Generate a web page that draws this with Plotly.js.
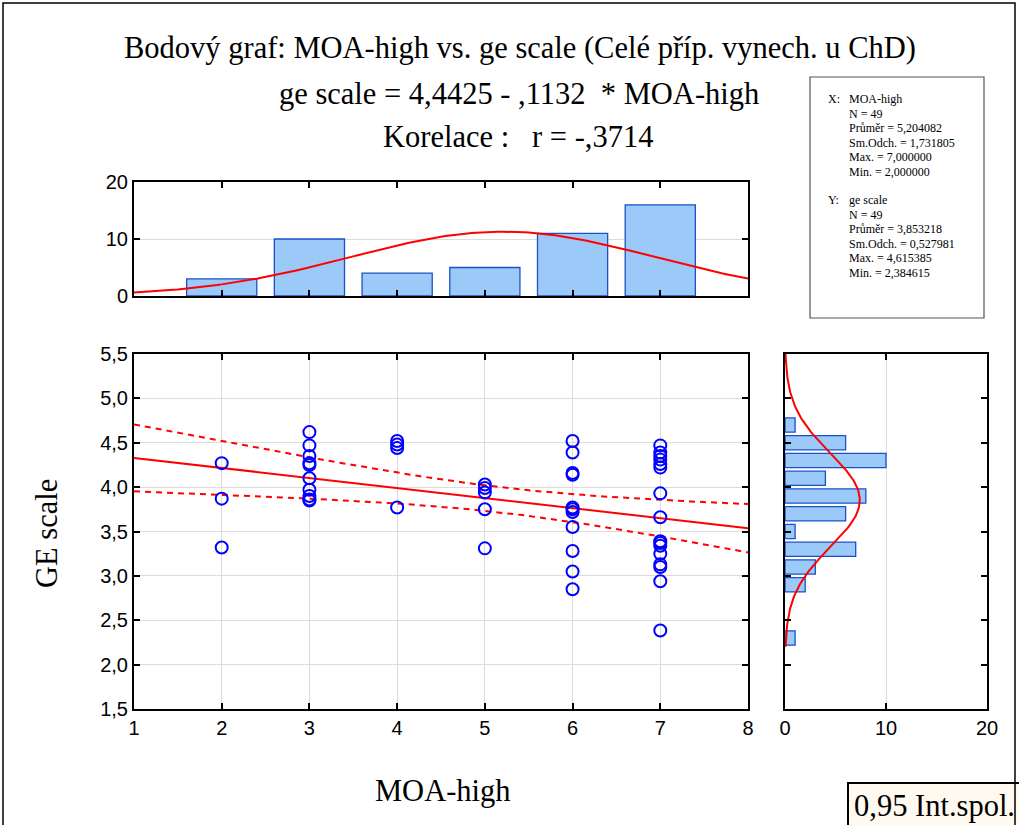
<!DOCTYPE html>
<html>
<head>
<meta charset="utf-8">
<script src="https://cdn.plot.ly/plotly-3.0.1.min.js"></script>
<style>html,body{margin:0;padding:0;background:#fff;}#chart{width:1019px;height:825px;}</style>
</head>
<body>
<div id="chart"></div>
<script>
// ---- data ----
const moaHigh = [
  2,2,2,
  3,3,3,3,3,3,3,3,3,3,
  4,4,4,4,
  5,5,5,5,5,
  6,6,6,6,6,6,6,6,6,6,6,
  7,7,7,7,7,7,7,7,7,7,7,7,7,7,7,7
];
const geScale = [
  4.27,3.87,3.32,
  4.62,4.47,4.35,4.27,4.25,4.10,3.97,3.90,3.86,3.85,
  4.52,4.48,4.44,3.77,
  4.03,3.99,3.94,3.75,3.31,
  4.52,4.39,4.16,4.14,3.77,3.75,3.72,3.55,3.28,3.05,2.85,
  4.47,4.39,4.35,4.31,4.26,4.22,3.93,3.66,3.39,3.37,3.34,3.25,3.13,3.10,2.94,2.385
];
// statistics printed on the chart
const nObs = 49;
const meanX = 5.204082, sdX = 1.731805;
const meanY = 3.853218, sdY = 0.527981;
const intercept = 4.4425, slope = -0.1132, corr = -0.3714;
const tCrit = 2.0117;
const statsLinesX = ["N = 49","Průměr = 5,204082","Sm.Odch. = 1,731805","Max. = 7,000000","Min. = 2,000000"];
const statsLinesY = ["N = 49","Průměr = 3,853218","Sm.Odch. = 0,527981","Max. = 4,615385","Min. = 2,384615"];
const xTicks = [1,2,3,4,5,6,7,8];
const yTicks = [1.5,2,2.5,3,3.5,4,4.5,5,5.5];

// ---- fitted curves from the printed statistics ----
const W = 1019, H = 825;
const px = x => x / W, py = y => 1 - y / H;
const gridX = [], fitY = [], upY = [], loY = [], normTop = [];
const sRes = sdY * Math.sqrt(1 - corr*corr) * Math.sqrt((nObs-1)/(nObs-2));
const Sxx = (nObs-1) * sdX * sdX;
for (let i = 0; i <= 140; i++) {
  const x = 1 + i * 0.05;
  gridX.push(x);
  const f = intercept + slope * x;
  const h = tCrit * sRes * Math.sqrt(1/nObs + (x-meanX)*(x-meanX)/Sxx);
  fitY.push(f); upY.push(f + h); loY.push(f - h);
  normTop.push(nObs * 1 * Math.exp(-0.5*Math.pow((x-meanX)/sdX,2)) / (sdX*Math.sqrt(2*Math.PI)));
}
const gridY = [], normRight = [];
for (let i = 0; i <= 165; i++) {
  const y = 2.2 + i * 0.02;
  gridY.push(y);
  normRight.push(nObs * 0.2 * Math.exp(-0.5*Math.pow((y-meanY)/sdY,2)) / (sdY*Math.sqrt(2*Math.PI)));
}

const red = '#ff0000', blue = '#0000ff';
const barFill = 'rgba(150,198,248,0.95)', barLine = '#1a50c8';

const traces = [
  // top histogram
  {type:'histogram', x: moaHigh, xaxis:'x2', yaxis:'y2',
   xbins:{start:1.5, end:7.5, size:1},
   marker:{color:barFill, line:{color:barLine, width:1.3}}, hoverinfo:'skip'},
  {type:'scatter', mode:'lines', x: gridX, y: normTop, xaxis:'x2', yaxis:'y2',
   line:{color:red, width:2}, hoverinfo:'skip'},
  // right histogram
  {type:'histogram', y: geScale, xaxis:'x3', yaxis:'y3', orientation:'h',
   ybins:{start:2.2, end:4.8, size:0.2},
   marker:{color:barFill, line:{color:barLine, width:1.3}}, hoverinfo:'skip'},
  {type:'scatter', mode:'lines', x: normRight, y: gridY, xaxis:'x3', yaxis:'y3',
   line:{color:red, width:2}, hoverinfo:'skip'},
  // main scatter
  {type:'scatter', mode:'lines', x: gridX, y: upY, line:{color:red, width:2, dash:'6px,5px'}, hoverinfo:'skip'},
  {type:'scatter', mode:'lines', x: gridX, y: loY, line:{color:red, width:2, dash:'6px,5px'}, hoverinfo:'skip'},
  {type:'scatter', mode:'lines', x: gridX, y: fitY, line:{color:red, width:2}, hoverinfo:'skip'},
  {type:'scatter', mode:'markers', x: moaHigh, y: geScale,
   marker:{symbol:'circle-open', size:12, color:blue, line:{color:blue, width:2}}, hoverinfo:'skip'}
];

const tickFont = {family:'Liberation Sans, Arial, sans-serif', size:20, color:'#000'};
const serif = 'Liberation Serif, Times New Roman, serif';
const axisCommon = {showline:true, linecolor:'#000', linewidth:2, mirror:'ticks', ticks:'inside',
  ticklen:6, tickwidth:2, tickcolor:'#000', gridcolor:'#dcdcdc', gridwidth:1, zeroline:false,
  tickfont:tickFont, fixedrange:true};

const annotations = [
  {text:'Bodový graf: MOA-high vs. ge scale (Celé příp. vynech. u ChD)', x:px(520), y:py(48)},
  {text:'ge scale = 4,4425 - ,1132\u00a0\u00a0* MOA-high', x:px(519), y:py(94)},
  {text:'Korelace :\u00a0\u00a0\u00a0r = -,3714', x:px(518), y:py(137)},
  {text:'MOA-high', x:px(443), y:py(791)},
  {text:'GE scale', x:px(47), y:py(534), textangle:-90},
].map(a => Object.assign({xref:'paper', yref:'paper', showarrow:false, xanchor:'center', yanchor:'middle',
   font:{family:serif, size:30.5, color:'#000'}}, a));

const smallFont = {family:serif, size:12, color:'#000'};
const addStat = (t, x, y) => annotations.push({text:t, x:px(x), y:py(y), xref:'paper', yref:'paper',
  showarrow:false, xanchor:'left', yanchor:'middle', font:smallFont});
addStat('X:', 826, 99); addStat('MOA-high', 847, 99);
statsLinesX.forEach((t,i) => addStat(t, 847, 113.5 + i*14.5));
addStat('Y:', 826, 200); addStat('ge scale', 847, 200);
statsLinesY.forEach((t,i) => addStat(t, 847, 214.5 + i*14.5));
annotations.push({text:'0,95 Int.spol.', x:px(852), y:py(806), xref:'paper', yref:'paper', showarrow:false,
  xanchor:'left', yanchor:'middle', font:{family:serif, size:30.5, color:'#000'}});

const rectPx = (x0,y0,x1,y1,opts) => Object.assign({type:'rect', xref:'paper', yref:'paper',
  x0:px(x0), x1:px(x1), y0:py(y1), y1:py(y0), layer:'above'}, opts);

const layout = {
  width:W, height:H, margin:{l:0,r:0,t:0,b:0}, paper_bgcolor:'#fff', plot_bgcolor:'#fff',
  showlegend:false, separators:', ', bargap:0.2,
  xaxis: Object.assign({}, axisCommon, {domain:[px(134), px(748)], range:[1,8], tickvals:xTicks, anchor:'y'}),
  yaxis: Object.assign({}, axisCommon, {domain:[py(709), py(354)], range:[1.5,5.5], tickvals:yTicks, tickformat:'.1f', anchor:'x'}),
  xaxis2: Object.assign({}, axisCommon, {domain:[px(134), px(748)], range:[1,8], tickvals:[2,3,4,5,6,7], showticklabels:false, showgrid:false, anchor:'y2'}),
  yaxis2: Object.assign({}, axisCommon, {domain:[py(296), py(182)], range:[0,20], tickvals:[0,10,20], anchor:'x2'}),
  xaxis3: Object.assign({}, axisCommon, {domain:[px(785), px(987)], range:[0,20], tickvals:[0,10,20], anchor:'y3'}),
  yaxis3: Object.assign({}, axisCommon, {domain:[py(709), py(354)], range:[1.5,5.5], tickvals:yTicks, showticklabels:false, showgrid:false, anchor:'x3'}),
  annotations: annotations,
  shapes: [
    rectPx(3,3,1015,832,{line:{color:'#000', width:1.5}, fillcolor:'rgba(0,0,0,0)'}),
    rectPx(810,77,984,318,{line:{color:'#555', width:1.2}, fillcolor:'rgba(0,0,0,0)', layer:'below'}),
    rectPx(848,783,1030,832,{line:{color:'#000', width:2}, fillcolor:'#fffaf0', layer:'below'})
  ]
};

Plotly.newPlot('chart', traces, layout, {displayModeBar:false, staticPlot:true});
</script>
</body>
</html>
